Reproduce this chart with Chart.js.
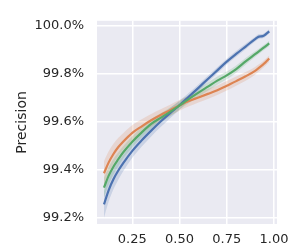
<!DOCTYPE html>
<html lang="en">
<head>
  <meta charset="UTF-8" />
  <title>Precision</title>
  <style>
    html, body { margin: 0; padding: 0; background: #ffffff; }
    #wrap { width: 299px; height: 248px; }
  </style>
  <script src="https://cdn.jsdelivr.net/npm/chart.js"></script>
</head>
<body>
  <div id="wrap"><canvas id="chart" width="299" height="248"></canvas></div>

  <script>
    // x positions where the curves were read
    const xs = [0.10, 0.125, 0.15, 0.175, 0.20, 0.25, 0.30, 0.35, 0.40, 0.45, 0.50, 0.55, 0.60, 0.65, 0.70, 0.75, 0.80, 0.85, 0.90, 0.92, 0.94, 0.955, 0.975];

    // precision (%) per series
    const blueVals   = [99.255, 99.315, 99.36, 99.395, 99.425, 99.478, 99.522, 99.562, 99.60, 99.635, 99.668, 99.704, 99.74, 99.777, 99.813, 99.849, 99.881, 99.912, 99.943, 99.953, 99.955, 99.962, 99.975];
    const orangeVals = [99.385, 99.43, 99.465, 99.493, 99.515, 99.553, 99.58, 99.605, 99.627, 99.647, 99.667, 99.685, 99.70, 99.715, 99.73, 99.749, 99.768, 99.788, 99.811, 99.823, 99.836, 99.846, 99.862];
    const greenVals  = [99.325, 99.375, 99.412, 99.442, 99.47, 99.516, 99.555, 99.59, 99.615, 99.64, 99.667, 99.694, 99.72, 99.745, 99.77, 99.792, 99.818, 99.85, 99.88, 99.892, 99.904, 99.913, 99.925];

    // half width of the shaded bands
    const blueBand   = [0.055, 0.048, 0.042, 0.038, 0.034, 0.029, 0.026, 0.024, 0.023, 0.021, 0.019, 0.016, 0.014, 0.013, 0.013, 0.012, 0.012, 0.011, 0.01, 0.01, 0.009, 0.009, 0.009];
    const orangeBand = [0.05, 0.046, 0.042, 0.038, 0.035, 0.032, 0.029, 0.026, 0.024, 0.023, 0.022, 0.022, 0.021, 0.021, 0.02, 0.02, 0.019, 0.018, 0.016, 0.015, 0.014, 0.014, 0.013];
    const greenBand  = [0.04, 0.036, 0.032, 0.029, 0.026, 0.023, 0.021, 0.02, 0.019, 0.018, 0.017, 0.017, 0.017, 0.017, 0.017, 0.016, 0.015, 0.014, 0.012, 0.011, 0.011, 0.011, 0.011];

    const yTicks = [99.2, 99.4, 99.6, 99.8, 100.0];
    const xTicks = [0.25, 0.50, 0.75, 1.00];

    const BLUE = '#4c72b0', ORANGE = '#dd8452', GREEN = '#55a868';

    function pts(vals, band, sign) {
      return xs.map((x, i) => ({ x: x, y: vals[i] + sign * (band ? band[i] : 0) }));
    }
    function lineSet(vals, color) {
      return { data: pts(vals, null, 0), borderColor: color, borderWidth: 2.2, pointRadius: 0, fill: false, cubicInterpolationMode: 'monotone' };
    }
    function bandSets(vals, band, rgba) {
      return [
        { data: pts(vals, band, 1), borderWidth: 0, pointRadius: 0, fill: '+1', backgroundColor: rgba, cubicInterpolationMode: 'monotone' },
        { data: pts(vals, band, -1), borderWidth: 0, pointRadius: 0, fill: false, cubicInterpolationMode: 'monotone' }
      ];
    }

    const bgPlugin = {
      id: 'bg',
      beforeDraw(chart) {
        const a = chart.chartArea, c = chart.ctx;
        c.save();
        c.fillStyle = '#eaeaf2';
        c.fillRect(a.left, a.top, a.right - a.left, a.bottom - a.top);
        c.restore();
      }
    };

    const tickFont = { family: 'DejaVu Sans', size: 13 };

    new Chart(document.getElementById('chart'), {
      type: 'line',
      data: {
        datasets: [
          lineSet(greenVals, GREEN),
          lineSet(orangeVals, ORANGE),
          lineSet(blueVals, BLUE),
          ...bandSets(greenVals, greenBand, 'rgba(85,168,104,0.2)'),
          ...bandSets(orangeVals, orangeBand, 'rgba(221,132,82,0.2)'),
          ...bandSets(blueVals, blueBand, 'rgba(76,114,176,0.2)')
        ]
      },
      options: {
        responsive: false,
        animation: false,
        layout: { padding: { top: 0, right: 22, left: 0, bottom: 0 } },
        plugins: { legend: { display: false }, tooltip: { enabled: false } },
        scales: {
          x: {
            type: 'linear',
            min: 0.063, max: 1.016,
            afterBuildTicks: s => { s.ticks = xTicks.map(v => ({ value: v })); },
            afterFit: s => { s.height = 24; },
            ticks: { font: tickFont, color: '#262626', padding: 8, maxRotation: 0, callback: v => v.toFixed(2) },
            grid: { color: '#ffffff', lineWidth: 1.5, drawTicks: false },
            border: { display: false }
          },
          y: {
            min: 99.1736, max: 100.019,
            afterBuildTicks: s => { s.ticks = yTicks.map(v => ({ value: v })); },
            afterFit: s => { s.width = 97; },
            ticks: { font: tickFont, color: '#262626', padding: 13, callback: v => v.toFixed(1) + '%' },
            grid: { color: '#ffffff', lineWidth: 1.5, drawTicks: false },
            border: { display: false },
            title: { display: true, text: 'Precision', font: { family: 'DejaVu Sans', size: 14 }, color: '#262626', padding: { top: 14, bottom: 0 } }
          }
        }
      },
      plugins: [bgPlugin]
    });
  </script>
</body>
</html>
